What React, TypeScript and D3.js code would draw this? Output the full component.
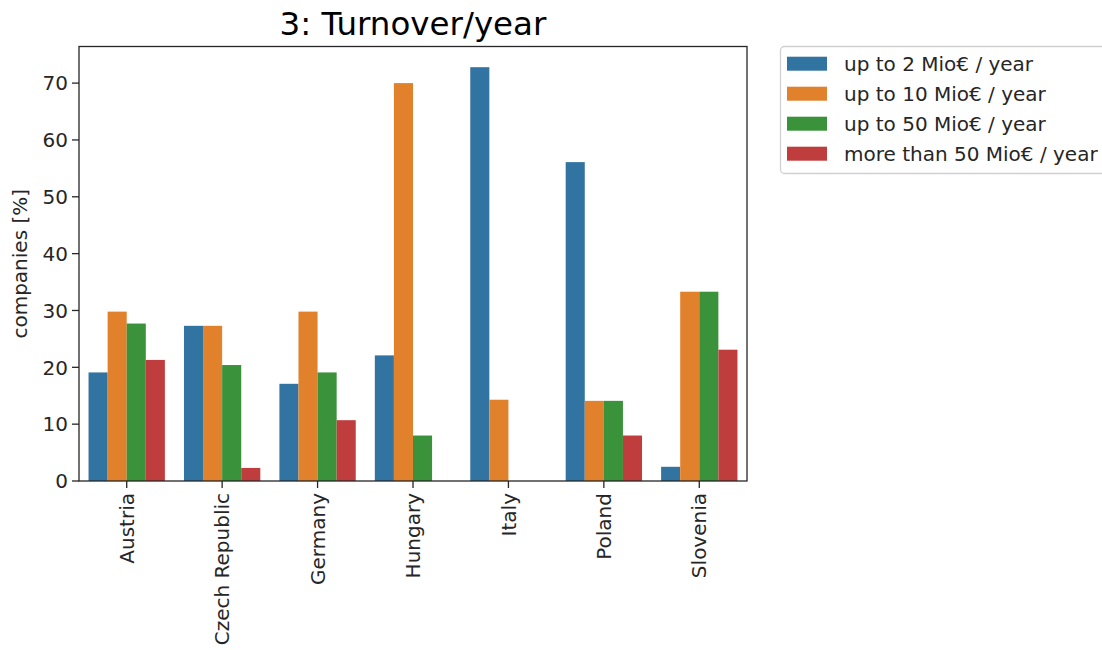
import React from 'react';
import * as d3 from 'd3';

// values
const countries = ['Austria', 'Czech Republic', 'Germany', 'Hungary', 'Italy', 'Poland', 'Slovenia'];
const seriesNames = ['up to 2 Mio€ / year', 'up to 10 Mio€ / year', 'up to 50 Mio€ / year', 'more than 50 Mio€ / year'];
const upTo2 = [19.1, 27.3, 17.1, 22.1, 72.8, 56.1, 2.5];
const upTo10 = [29.8, 27.3, 29.8, 70.0, 14.3, 14.1, 33.3];
const upTo50 = [27.7, 20.4, 19.1, 8.0, 0, 14.1, 33.3];
const over50 = [21.3, 2.3, 10.7, 0, 0, 8.0, 23.1];
const yTicks = [0, 10, 20, 30, 40, 50, 60, 70];
const colors = ['#3274a1', '#e1812c', '#3a923a', '#c03d3e'];

const series = [upTo2, upTo10, upTo50, over50];

const App: React.FC = () => {
  const W = 1102;
  const H = 650;
  const margin = { top: 46.5, left: 79, right: 747, bottom: 481 };
  const font = 'DejaVu Sans, sans-serif';
  const fs = 20;

  const x = d3.scaleBand().domain(countries).range([margin.left, margin.right]).paddingInner(0).paddingOuter(0);
  const x1 = d3.scaleBand().domain(seriesNames).range([0, x.bandwidth()]).paddingOuter(0.5).paddingInner(0);
  const ymax = d3.max(series.flat()) as number;
  const y = d3.scaleLinear().domain([0, ymax * 1.05]).range([margin.bottom, margin.top]);

  return (
    <div style={{ position: 'fixed', left: 0, top: 0 }}>
      <svg width={W} height={H} style={{ display: 'block', background: '#fff' }} fontFamily={font}>
        {/* title */}
        <text x={(margin.left + margin.right) / 2} y={35} textAnchor="middle" fontSize={32.5} fill="#000">
          3: Turnover/year
        </text>

        {/* bars */}
        {series.map((vals, si) => (
          <g key={si} fill={colors[si]}>
            {vals.map((v, ci) => (
              v > 0 ? (
                <rect
                  key={ci}
                  x={(x(countries[ci]) || 0) + (x1(seriesNames[si]) || 0)}
                  y={y(v)}
                  width={x1.bandwidth()}
                  height={y(0) - y(v)}
                />
              ) : null
            ))}
          </g>
        ))}

        {/* y axis */}
        {yTicks.map(t => (
          <g key={t}>
            <line x1={margin.left - 7} x2={margin.left} y1={y(t)} y2={y(t)} stroke="#262626" strokeWidth={1.3} />
            <text x={margin.left - 11} y={y(t)} dy="0.36em" textAnchor="end" fontSize={fs} fill="#262626">{t}</text>
          </g>
        ))}
        <text transform={`translate(27,${(margin.top + margin.bottom) / 2}) rotate(-90)`} textAnchor="middle" fontSize={fs} fill="#262626">
          companies [%]
        </text>

        {/* x axis */}
        {countries.map(c => {
          const cx = (x(c) || 0) + x.bandwidth() / 2;
          return (
            <g key={c}>
              <line x1={cx} x2={cx} y1={margin.bottom} y2={margin.bottom + 7} stroke="#262626" strokeWidth={1.3} />
              <text transform={`translate(${cx},${margin.bottom + 12}) rotate(-90)`} dy="0.36em" textAnchor="end" fontSize={fs} fill="#262626">{c}</text>
            </g>
          );
        })}

        {/* frame */}
        <rect x={margin.left} y={margin.top} width={margin.right - margin.left} height={margin.bottom - margin.top}
          fill="none" stroke="#262626" strokeWidth={1.3} />

        {/* legend */}
        <rect x={780.5} y={46.5} width={340} height={127} rx={4} fill="#fff" stroke="#d0d0d0" strokeWidth={1.3} />
        {seriesNames.map((s, i) => (
          <g key={s} transform={`translate(787,${63.7 + i * 30})`}>
            <rect x={0} y={-7} width={40} height={14} fill={colors[i]} />
            <text x={57} y={0} dy="0.36em" fontSize={fs} fill="#262626">{s}</text>
          </g>
        ))}
      </svg>
    </div>
  );
};

export default App;
